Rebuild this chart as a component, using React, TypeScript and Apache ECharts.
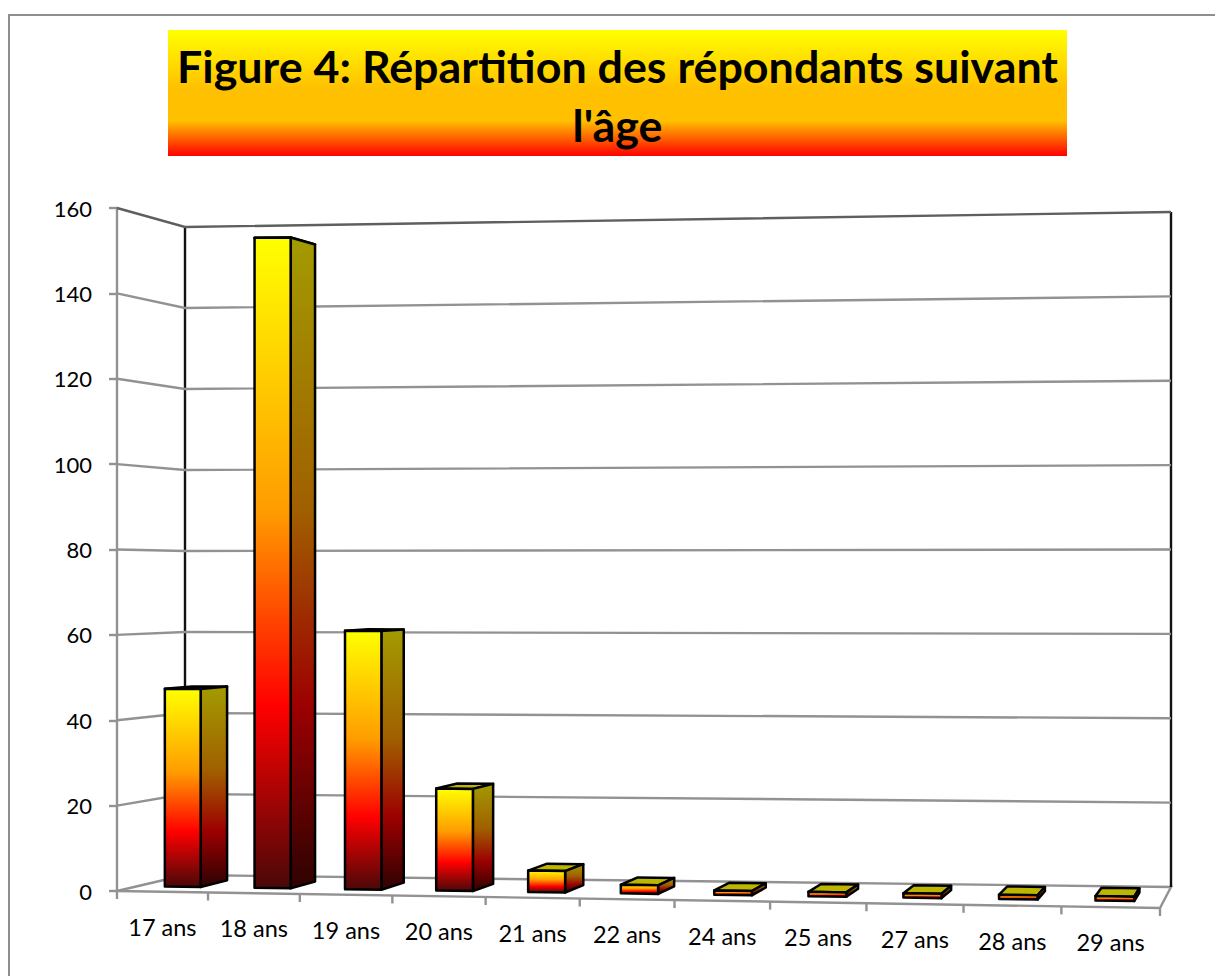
import React, { useEffect, useRef } from "react";
import * as echarts from "echarts";

const ageLabels = ["17 ans", "18 ans", "19 ans", "20 ans", "21 ans", "22 ans", "24 ans", "25 ans", "27 ans", "28 ans", "29 ans"];
const respondents = [47, 154, 61, 24, 5, 2, 1, 1, 1, 1, 1];
const valueTicks = [0, 20, 40, 60, 80, 100, 120, 140, 160];
const titleText = "Figure 4: Répartition des répondants suivant\nl'âge";

const FONT = "Lato, Carlito, sans-serif";
const G = { left: 117, top: 208, width: 1043, height: 683 };
// Projection of the unit box (u along the axis, w in depth, t in value)
const C = {
  f0l: [117, 891], f0r: [1160, 908], b0l: [185, 875], b0r: [1171, 887],
  f1l: [117, 208], f1r: [1160, 197], b1l: [185, 227], b1r: [1171, 212],
};
const mix = (a: number, b: number, k: number) => a + (b - a) * k;
function project(uRaw: number, w: number, t: number): number[] {
  const u = uRaw + 0.044 * uRaw * (uRaw - 1);
  return [0, 1].map((i) => {
    const f0 = mix(C.f0l[i], C.f0r[i], u), b0 = mix(C.b0l[i], C.b0r[i], u);
    const f1 = mix(C.f1l[i], C.f1r[i], u), b1 = mix(C.b1l[i], C.b1r[i], u);
    return mix(mix(f0, b0, w), mix(f1, b1, w), t);
  });
}
const toU = (x: number) => (x - G.left) / G.width;
const toT = (y: number) => (G.top + G.height - y) / G.height;

const GRAY = "#929292";
const LW = 2.4;
const frontFire = [
  { offset: 0, color: "#ffff00" }, { offset: 0.42, color: "#ff9c00" },
  { offset: 0.72, color: "#ff0000" }, { offset: 1, color: "#4a0808" },
];
const sideFire = [
  { offset: 0, color: "#a39b00" }, { offset: 0.42, color: "#a05f00" },
  { offset: 0.72, color: "#9c0000" }, { offset: 1, color: "#2e0202" },
];
const grad = (stops: any[]) => new echarts.graphic.LinearGradient(0, 0, 0, 1, stops);

function renderWall(_: any, api: any) {
  const v = api.value(0);
  const t = toT(api.coord([0, v])[1]);
  const isTop = v === valueTicks[valueTicks.length - 1];
  const children: any[] = [];
  const col = isTop ? "#5f5f5f" : GRAY;
  if (v !== 0) {
    children.push({
      type: "polyline",
      shape: { points: [project(0, 0, t), project(0, 1, t), project(1, 1, t)] },
      style: { stroke: col, lineWidth: LW, fill: "none" },
    });
  } else {
    children.push({
      type: "polyline",
      shape: { points: [project(0, 0, 0), project(0, 1, 0), project(1, 1, 0), project(1, 0, 0), project(0, 0, 0)] },
      style: { stroke: GRAY, lineWidth: LW, fill: "none" },
    });
    children.push({
      type: "line",
      shape: { x1: project(0, 1, 0)[0], y1: project(0, 1, 0)[1], x2: project(0, 1, 1)[0], y2: project(0, 1, 1)[1] },
      style: { stroke: "#111", lineWidth: 2.4 },
    });
    children.push({
      type: "line",
      shape: { x1: project(1, 1, 0)[0], y1: project(1, 1, 0)[1], x2: project(1, 1, 1)[0], y2: project(1, 1, 1)[1] },
      style: { stroke: "#111", lineWidth: 2.4 },
    });
  }
  return { type: "group", children };
}

function renderLabel(_: any, api: any) {
  const i = api.value(0);
  const pt = api.coord([i, 0]);
  const band = api.size([1, 0])[0];
  const u = toU(pt[0]);
  const c = project(u, 0, 0);
  const end = project(toU(pt[0] + band / 2), 0, 0);
  const children: any[] = [
    { type: "line", shape: { x1: end[0], y1: end[1], x2: end[0], y2: end[1] + 8 }, style: { stroke: GRAY, lineWidth: LW } },
    {
      type: "text", x: c[0], y: c[1] + 35,
      style: { text: ageLabels[i], font: `23.5px ${FONT}`, fill: "#000", textAlign: "center", textVerticalAlign: "middle" },
    },
  ];
  if (i === 0) {
    const s = project(0, 0, 0);
    children.push({ type: "line", shape: { x1: s[0], y1: s[1], x2: s[0], y2: s[1] + 8 }, style: { stroke: GRAY, lineWidth: LW } });
  }
  return { type: "group", children };
}

function renderBar(_: any, api: any) {
  const i = api.value(0);
  const pt = api.coord([i, api.value(1)]);
  const half = api.size([1, 0])[0] * 0.2;
  const ul = toU(pt[0] - half), ur = toU(pt[0] + half);
  const t = toT(pt[1]);
  const w0 = 0.31, w1 = 0.72;
  const border = { stroke: "#000", lineWidth: 2.5, lineJoin: "round" };
  const poly = (points: number[][], fill: any) => ({ type: "polygon", shape: { points }, style: { fill, ...border } });
  return {
    type: "group",
    children: [
      poly([project(ul, w0, t), project(ur, w0, t), project(ur, w1, t), project(ul, w1, t)], "#bdb600"),
      poly([project(ur, w0, t), project(ur, w1, t), project(ur, w1, 0), project(ur, w0, 0)], grad(sideFire)),
      poly([project(ul, w0, t), project(ur, w0, t), project(ur, w0, 0), project(ul, w0, 0)], grad(frontFire)),
    ],
  };
}

export default function App() {
  const ref = useRef<HTMLDivElement>(null);
  useEffect(() => {
    const chart = echarts.init(ref.current!, null, { renderer: "svg" });
    chart.setOption({
      animation: false,
      backgroundColor: "#fff",
      title: {
        text: titleText,
        left: 612.5,
        top: 31,
        textAlign: "center",
        z: 10,
        textStyle: { fontFamily: FONT, fontWeight: "bold", fontSize: 44.8, lineHeight: 59, color: "#000" },
      },
      graphic: [
        {
          type: "polyline", z: -2,
          shape: { points: [[9, 980], [9, 15], [1220, 15]] },
          style: { stroke: "#8e8e8e", lineWidth: 2, fill: "none" },
        },
        {
          type: "rect", z: -1,
          shape: { x: 168, y: 30, width: 899, height: 126 },
          style: {
            fill: new echarts.graphic.LinearGradient(0, 0, 0, 1, [
              { offset: 0, color: "#ffff00" }, { offset: 0.47, color: "#ffc000" },
              { offset: 0.72, color: "#ffc000" }, { offset: 1, color: "#ff0000" },
            ]),
          },
        },
      ],
      grid: { ...G, containLabel: false },
      xAxis: {
        type: "category", data: ageLabels,
        axisLine: { show: false }, axisTick: { show: false }, axisLabel: { show: false }, splitLine: { show: false },
      },
      yAxis: {
        type: "value", min: 0, max: 160, interval: 20,
        axisLine: { show: true, lineStyle: { color: GRAY, width: LW } },
        axisTick: { show: true, length: 8, lineStyle: { color: GRAY, width: LW } },
        axisLabel: { fontFamily: FONT, fontSize: 22, color: "#000", margin: 25 },
        splitLine: { show: false },
      },
      series: [
        { type: "custom", name: "walls", coordinateSystem: "cartesian2d", clip: false, silent: true, z: 1, data: valueTicks.map((v) => [v]), encode: { y: 0 }, renderItem: renderWall },
        { type: "custom", name: "labels", coordinateSystem: "cartesian2d", clip: false, silent: true, z: 2, data: respondents.map((_, i) => [i]), encode: { x: 0 }, renderItem: renderLabel },
        { type: "custom", name: "Répondants", coordinateSystem: "cartesian2d", clip: false, silent: true, z: 3, data: respondents.map((v, i) => [i, v]), encode: { x: 0, y: 1 }, renderItem: renderBar },
      ],
    });
    return () => chart.dispose();
  }, []);
  return <div ref={ref} style={{ position: "fixed", left: 0, top: 0, width: 1215, height: 976 }} />;
}
